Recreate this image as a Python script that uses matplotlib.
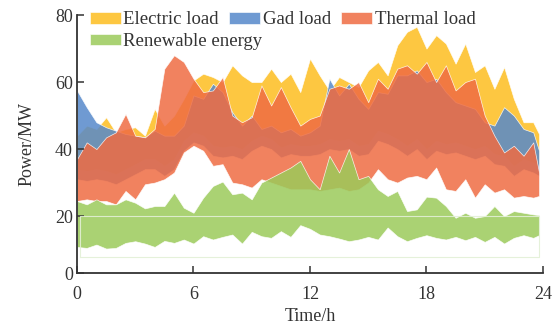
import numpy as np
import matplotlib

matplotlib.use("Agg")
import matplotlib.pyplot as plt

plt.rcParams["font.family"] = ["Liberation Serif", "DejaVu Serif"]

# ── Data (half-hour steps) ───────────────────────────────────────────────────
hours = np.append(np.arange(0, 24, 0.5), 23.8)

electric_hi = [44, 47, 46, 49.5, 45, 46, 46.5, 44, 52, 47, 50, 55, 60.5, 62.5, 61.5, 60,
               65, 62, 60, 60, 64, 60, 62.5, 57, 67, 62, 57.5, 61.5, 60, 58.5, 63.5, 66,
               62, 71, 75, 76.5, 70, 74, 71.5, 65.5, 71.5, 63, 65, 58, 64.5, 55, 48, 48, 44.5]
electric_lo = [34, 33.5, 34, 33.5, 32.5, 34, 35.5, 37, 37, 35, 37, 42.5, 45, 44, 41, 40.5,
               41, 40, 42.5, 44, 43, 40.5, 41.5, 41, 41, 41.5, 43, 42.5, 43, 41, 41.5, 45.5,
               44.5, 43, 41, 43, 40, 42.5, 41.5, 42, 41, 40, 41, 38.5, 38, 35, 37, 36, 35]

gas_hi = [57.5, 52.5, 48, 46.5, 45.5, 44.5, 44, 43.5, 45.5, 44, 44, 47, 56, 55, 59.5, 57,
          51, 47, 50, 46, 47, 45, 46, 44, 45, 47, 61, 56, 59.5, 55, 52, 57,
          56.5, 62, 62, 63.5, 60, 61, 57, 54, 53, 52, 48, 47, 52.5, 50, 46, 45, 39.5]
gas_lo = [31, 30.5, 31, 30.5, 29.5, 31, 32.5, 34, 34, 32, 34, 39.5, 42, 41, 38, 37.5,
          38, 37, 39.5, 41, 40, 37.5, 38.5, 38, 38, 38.5, 40, 39.5, 40, 38, 38.5, 42.5,
          41.5, 40, 38, 40, 37, 39.5, 38.5, 39, 38, 37, 38, 35.5, 35, 32, 34, 33, 32]

thermal_hi = [37, 42, 40, 43.5, 45, 50.5, 44, 43.5, 46, 64, 68, 66, 61, 57, 57.5, 61.5,
              50, 48, 49.5, 59, 53, 58.5, 52.5, 47, 49, 50, 58, 59, 58, 60, 54, 61,
              58, 64, 65, 62.5, 66, 60, 65, 57.5, 60, 61, 50, 44, 39, 41, 38, 42, 33]
thermal_lo = [24.5, 25, 24.5, 24.5, 23.5, 27.5, 25, 29.5, 30, 31, 33, 39, 41, 39.5, 35, 35.5,
              30, 29.5, 28.5, 31, 30, 29, 28, 28, 28, 27.5, 28, 28.5, 27.5, 28, 30, 34,
              31, 30, 31.5, 32, 31, 34.5, 28, 27.5, 31, 25.5, 29.5, 27, 28, 25.5, 26, 25.5, 26]

renew_hi = [24.5, 23.5, 25, 23.5, 23.5, 25, 24, 22.3, 23, 23, 27, 22.5, 21, 25.5, 29, 30.3,
            26.5, 27, 25, 30, 31.5, 33, 34.5, 36.5, 31, 28, 38, 33, 40, 31, 32, 28,
            26, 27.5, 21.5, 22, 25.8, 25.5, 23, 19.5, 21, 19.5, 20, 23, 20, 21.5, 21, 20.5, 20.3]
renew_lo = [10.8, 10.5, 11.5, 10.3, 10.5, 12, 12.5, 11.8, 10.8, 12.6, 12, 13, 11.8, 14, 13, 13.8,
            14.5, 11.8, 15.3, 14, 13.5, 15.5, 13.8, 17.3, 16.2, 14.5, 14, 13.3, 12.5, 13, 13.8, 13,
            16.6, 14, 12.5, 13.5, 14.3, 13.5, 13, 13.8, 12.8, 13.8, 12.3, 13.8, 11.8, 13.5, 14.3, 13.5, 14.3]

box_lo, box_hi = 7.7, 20   # faint frame behind the renewable band

# ── Plot ──────────────────────────────────────────────────────────────────────
fig = plt.figure(figsize=(5.56, 3.27), dpi=100)
ax = fig.add_axes([0.1385, 0.165, 0.838, 0.789])

edge = dict(linewidth=0.5, edgecolor=(1, 1, 1, 0.35), alpha=0.85)
h_el = ax.fill_between(hours, electric_lo, electric_hi, facecolor="#FDBE20", label="Electric load", **edge)
h_gas = ax.fill_between(hours, gas_lo, gas_hi, facecolor="#5689CA", label="Gad load", **edge)
h_th = ax.fill_between(hours, thermal_lo, thermal_hi, facecolor="#EF6C43", label="Thermal load", **edge)
h_re = ax.fill_between(hours, renew_lo, renew_hi, facecolor="#9BCA5A", label="Renewable energy", **edge)

ax.plot([hours[0] + 0.15, hours[-1], hours[-1], hours[0] + 0.15, hours[0] + 0.15],
        [box_lo, box_lo, box_hi, box_hi, box_lo], color="#E3F0D6", lw=0.8, alpha=0.9)

ax.set_xlim(0, 24)
ax.set_ylim(3, 80)
ax.set_xticks([0, 6, 12, 18, 24])
ax.set_yticks([3, 20, 40, 60, 80])
ax.set_yticklabels(["0", "20", "40", "60", "80"])

for s in ["top", "right"]:
    ax.spines[s].set_visible(False)
for s in ["left", "bottom"]:
    ax.spines[s].set_linewidth(1.3)
    ax.spines[s].set_color("#333333")

ax.tick_params(direction="in", length=5, width=1.1, color="#333333",
               labelsize=13, labelcolor="#333333")
ax.tick_params(axis="x", pad=9)
ax.tick_params(axis="y", pad=3)
ax.set_xlabel("Time/h", fontsize=13, color="#333333", labelpad=4)
ax.set_ylabel("Power/MW", fontsize=13, color="#333333", labelpad=14)

leg_kw = dict(loc="upper left", frameon=False, fontsize=13.5,
              handlelength=1.65, handleheight=0.6, handletextpad=0.15,
              columnspacing=0.55, borderpad=0, borderaxespad=0,
              labelcolor="#333333")
leg1 = ax.legend(handles=[h_el, h_gas, h_th], ncol=3,
                 bbox_to_anchor=(0.027, 1.015), **leg_kw)
ax.add_artist(leg1)
ax.legend(handles=[h_re], bbox_to_anchor=(0.027, 0.93), **leg_kw)

fig.savefig("out.png", dpi=100)
